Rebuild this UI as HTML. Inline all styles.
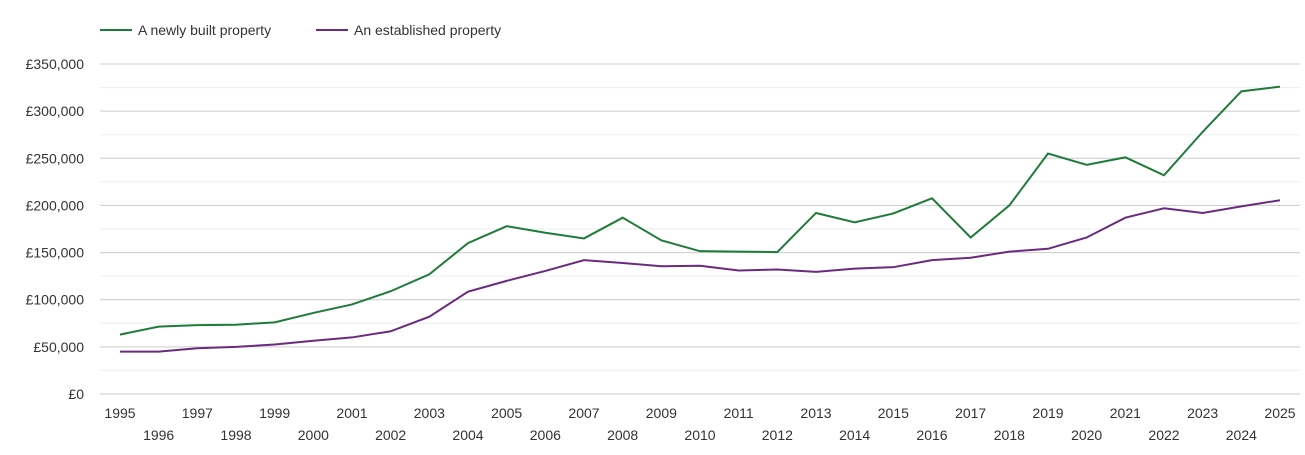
<!DOCTYPE html>
<html><head><meta charset="utf-8"><style>
body{margin:0;background:#fff;font-family:"Liberation Sans",sans-serif;}
svg text{font-family:"Liberation Sans",sans-serif;font-size:14px;fill:#333;}
</style></head><body>
<svg id="chart" width="1305" height="450" xmlns="http://www.w3.org/2000/svg">
<g>
<g><line x1="100" y1="30" x2="132" y2="30" stroke="#1e7b3a" stroke-width="2"/><text x="138" y="35">A newly built property</text></g>
<g><line x1="316" y1="30" x2="348" y2="30" stroke="#6b2a80" stroke-width="2"/><text x="354" y="35">An established property</text></g>
</g>
<g id="grid"></g>
<g id="yaxis"></g>
<g id="xaxis"></g>
<g id="series"></g>
</svg>
<script>
const years=[1995,1996,1997,1998,1999,2000,2001,2002,2003,2004,2005,2006,2007,2008,2009,2010,2011,2012,2013,2014,2015,2016,2017,2018,2019,2020,2021,2022,2023,2024,2025];
const newBuilt=[63000,71500,73000,73500,76000,86000,95000,109000,127000,160000,178000,171000,165000,187000,163000,151500,151000,150500,192000,182000,191500,207500,166000,200000,255000,243000,251000,232000,278000,321000,326000];
const established=[45000,45000,48500,50000,52500,56500,60000,66500,82000,108500,120000,130500,142000,139000,135500,136000,131000,132000,129500,133000,134500,142000,144500,151000,154000,166000,187000,197000,192000,199000,205500];
const yTicks=[0,50000,100000,150000,200000,250000,300000,350000];
const NS="http://www.w3.org/2000/svg";
const x=yr=>120+(yr-1995)*(1280-120)/30;
const y=v=>394-v*(394-64)/350000;
function mk(tag,attrs,parent){const e=document.createElementNS(NS,tag);for(const k in attrs)e.setAttribute(k,attrs[k]);parent.appendChild(e);return e;}
const grid=document.getElementById('grid'),ya=document.getElementById('yaxis'),xa=document.getElementById('xaxis'),ser=document.getElementById('series');
for(let v=0;v<=350000;v+=25000){
  const l=mk('line',{x1:100,x2:1300,y1:y(v),y2:y(v),stroke:v%50000?'#eeeeee':'#cccccc','stroke-width':1},grid);
  
  
}
yTicks.forEach(v=>{
  const t=mk('text',{x:84,y:y(v)+5,'text-anchor':'end'},ya);
  t.textContent='£'+v.toLocaleString('en-GB');
  
  
});
years.forEach((yr,i)=>{
  const t=mk('text',{x:x(yr),y:i%2?440:418,'text-anchor':'middle'},xa);
  t.textContent=yr;
  
  
});
function line(data,color,name){
  const p=mk('polyline',{points:data.map((v,i)=>x(years[i])+','+y(v)).join(' '),fill:'none',stroke:color,'stroke-width':2},ser);
  
  
}
line(newBuilt,'#1e7b3a','new-built-line');
line(established,'#6b2a80','established-line');
</script>
</body></html>
